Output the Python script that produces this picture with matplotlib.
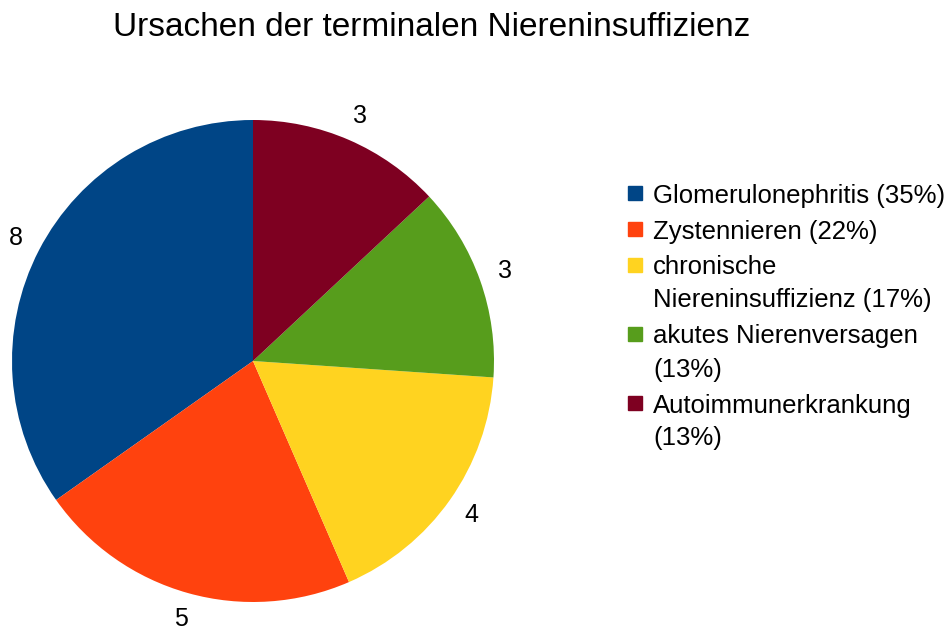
import matplotlib
matplotlib.use("Agg")
import matplotlib.pyplot as plt
from matplotlib.patches import Rectangle

plt.rcParams['font.family'] = ['Liberation Sans', 'DejaVu Sans']

categories = ["Glomerulonephritis", "Zystennieren", "chronische Niereninsuffizienz",
              "akutes Nierenversagen", "Autoimmunerkrankung"]
values = [8, 5, 4, 3, 3]
colors = ["#004586", "#ff420e", "#ffd320", "#579d1c", "#7e0021"]
legend_labels = ["Glomerulonephritis (35%)", "Zystennieren (22%)",
                 "chronische\nNiereninsuffizienz (17%)", "akutes Nierenversagen\n(13%)",
                 "Autoimmunerkrankung\n(13%)"]

W, H = 951, 629
fig = plt.figure(figsize=(W/100, H/100), dpi=100)
cx, cy, r = 253, 361, 241
ax = fig.add_axes([(cx - r)/W, (H - cy - r)/H, 2*r/W, 2*r/H])
wedges, texts = ax.pie(values, colors=colors, startangle=90, counterclock=True,
                       labels=[str(v) for v in values], labeldistance=1.11,
                       textprops=dict(fontsize=18, color="black"),
                       wedgeprops=dict(linewidth=0))
for t in texts:
    t.set_horizontalalignment("center")
    t.set_verticalalignment("center")
ax.set_xlim(-1, 1)
ax.set_ylim(-1, 1)
ax.set_aspect("auto")
ax.axis("off")

fig.text(432/W, 1 - 28/H, "Ursachen der terminalen Niereninsuffizienz",
         fontsize=24, ha="center", va="center")

# legend
y = 193
line_h = 33
gap = 3
sq = 14
for lab, col in zip(legend_labels, colors):
    fig.patches.append(Rectangle((628/W, 1 - (y + sq/2)/H), sq/W, sq/H,
                                 transform=fig.transFigure, color=col))
    for i, line in enumerate(lab.split("\n")):
        fig.text(653/W, 1 - (y + i*line_h)/H, line, fontsize=18.5, ha="left",
                 va="center_baseline")
    y += line_h * (lab.count("\n") + 1) + gap

fig.savefig("out.png", dpi=100, facecolor="white")
